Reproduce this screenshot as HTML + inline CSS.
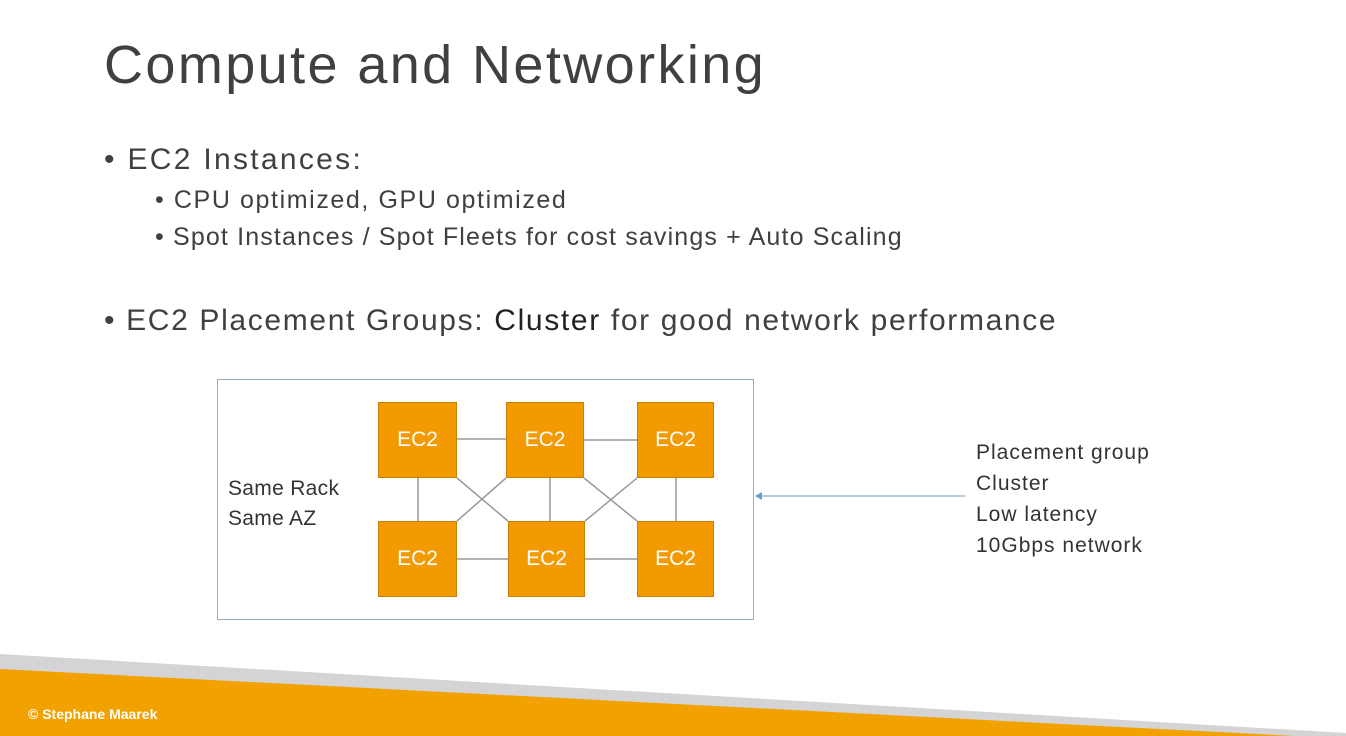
<!DOCTYPE html>
<html><head><style>
body{margin:0;width:1346px;height:736px;overflow:hidden;background:#fff;font-family:"Liberation Sans",sans-serif;color:#404040;position:relative}
.t{position:absolute;white-space:nowrap}
.b{position:absolute;left:378px;width:79px;height:76px;background:#f29a00;border:1px solid #c98000;box-sizing:border-box;color:#fff;font-size:21px;display:flex;align-items:center;justify-content:center}
</style></head><body>
<div class="t" style="left:104px;top:34px;font-size:54px;letter-spacing:2.4px">Compute and Networking</div>
<div class="t" style="left:104px;top:143px;font-size:30px;letter-spacing:2.3px">• EC2 Instances:</div>
<div class="t" style="left:155px;top:186px;font-size:25px;letter-spacing:1.6px">• CPU optimized, GPU optimized</div>
<div class="t" style="left:155px;top:223px;font-size:25px;letter-spacing:1.15px">• Spot Instances / Spot Fleets for cost savings + Auto Scaling</div>
<div class="t" style="left:104px;top:304px;font-size:30px;letter-spacing:1.65px">• EC2 Placement Groups: <span style="color:#222">Cluster</span> for good network performance</div>
<div style="position:absolute;left:217px;top:379px;width:537px;height:241px;border:1.5px solid #8fb0cc;box-sizing:border-box"></div>
<svg style="position:absolute;left:0;top:0" width="1346" height="736">
<g stroke="#999" stroke-width="1.5">
<line x1="457" y1="439" x2="506" y2="439"/><line x1="584" y1="440" x2="637" y2="440"/>
<line x1="457" y1="559" x2="508" y2="559"/><line x1="585" y1="559" x2="637" y2="559"/>
<line x1="418" y1="478" x2="418" y2="521"/><line x1="550" y1="478" x2="550" y2="521"/><line x1="676" y1="478" x2="676" y2="521"/>
<line x1="457" y1="478" x2="508" y2="521"/><line x1="506" y1="478" x2="457" y2="521"/>
<line x1="584" y1="478" x2="637" y2="521"/><line x1="637" y1="478" x2="585" y2="521"/>
</g>
<line x1="965" y1="496" x2="760" y2="496" stroke="#6a9bd0" stroke-width="1"/>
<polygon points="755,496 762,492 762,500" fill="#6a9bd0"/>
<polygon points="0,654 1346,733 1346,736 0,736" fill="#d4d4d6"/>
<polygon points="0,669 1295,736 0,736" fill="#f2a200"/>
</svg>
<div class="b" style="top:402px">EC2</div>
<div class="b" style="left:506px;top:402px;width:78px">EC2</div>
<div class="b" style="left:637px;top:402px;width:77px">EC2</div>
<div class="b" style="top:521px">EC2</div>
<div class="b" style="left:508px;top:521px;width:77px">EC2</div>
<div class="b" style="left:637px;top:521px;width:77px">EC2</div>
<div class="t" style="left:228px;top:474px;font-size:21px;line-height:30px;color:#333;letter-spacing:0.3px">Same Rack<br>Same AZ</div>
<div class="t" style="left:976px;top:437px;font-size:21px;line-height:31px;color:#333;letter-spacing:1px">Placement group<br>Cluster<br>Low latency<br>10Gbps network</div>
<div class="t" style="left:28px;top:706px;font-size:14px;color:#fff;font-weight:bold">© Stephane Maarek</div>
</body></html>
